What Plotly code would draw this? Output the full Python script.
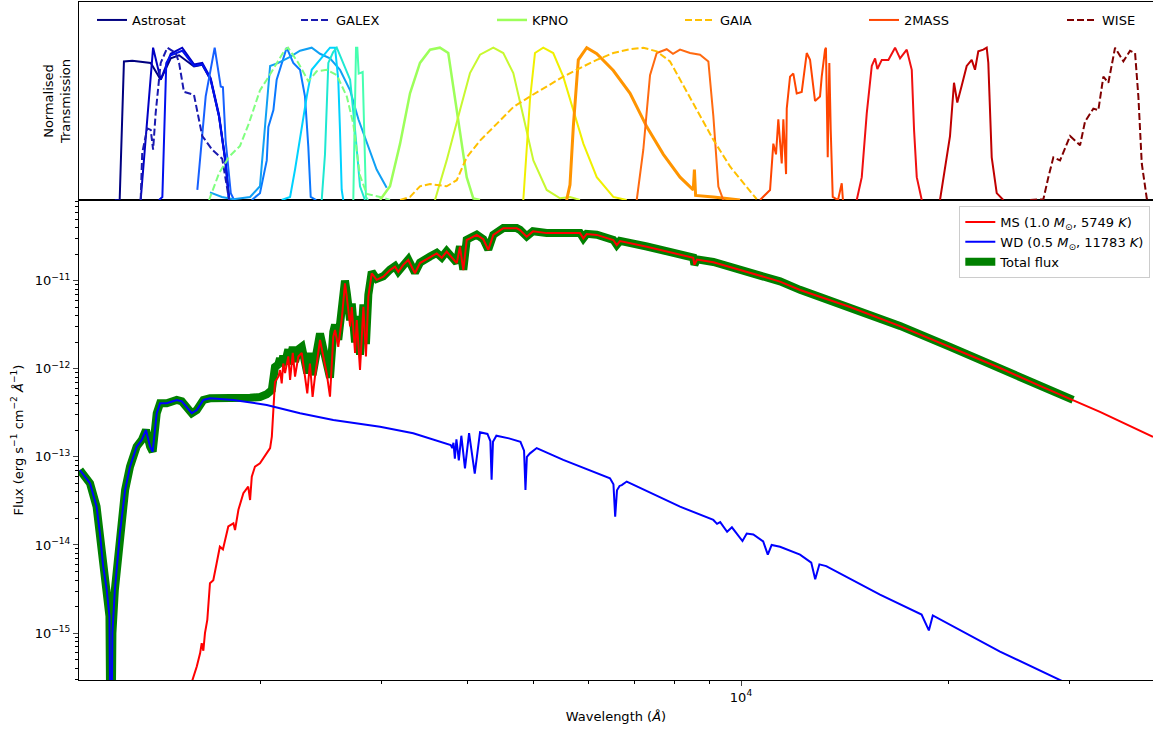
import plotly.graph_objects as go

# ---------------- top panel: filter transmission curves ----------------
f148w_wave = [1230, 1250, 1268, 1304, 1387, 1434, 1483, 1525, 1603, 1648, 1695, 1743, 1782, 1803]
f148w_trans = [0, 0.0, 0.91, 0.915, 0.90, 0.79, 0.93, 0.95, 0.877, 0.888, 0.79, 0.548, 0.243, 0.0]
f154w_wave = [1341, 1398, 1434, 1483, 1541, 1603, 1648, 1695, 1743, 1782, 1803]
f154w_trans = [0, 1.0, 0.79, 0.96, 1.0, 0.89, 0.90, 0.80, 0.56, 0.25, 0.0]
f169m_wave = [1426, 1442, 1461, 1483, 1541, 1603, 1648, 1695, 1743, 1782, 1803]
f169m_trans = [0, 0.02, 0.90, 0.95, 0.98, 0.88, 0.89, 0.79, 0.55, 0.24, 0.0]
f172m_wave = [1621, 1667, 1718, 1753, 1766, 1782, 1813, 1833]
f172m_trans = [0.066, 0.68, 1.0, 0.745, 0.74, 0.39, 0.045, 0.0]
n219m_wave = [1945, 1999, 2045, 2056, 2091, 2114, 2186, 2235, 2286, 2324, 2350, 2369, 2413]
n219m_trans = [0, 0.045, 0.26, 0.48, 0.59, 0.79, 1.0, 0.90, 0.855, 0.68, 0.35, 0.02, 0]
n242w_wave = [1691, 1760, 1829, 1934, 1999, 2033, 2068, 2126, 2211, 2286, 2377, 2444, 2527,
              2613, 2703, 2779, 2858, 2954, 3055]
n242w_trans = [0.05, 0.02, 0.005, 0.02, 0.09, 0.46, 0.88, 0.90, 0.94, 0.98, 1.0, 0.96, 0.93,
               0.855, 0.72, 0.53, 0.375, 0.20, 0.08]
n245m_wave = [2150, 2211, 2248, 2299, 2338, 2377, 2430, 2485, 2527, 2570, 2598, 2613, 2628, 2642]
n245m_trans = [0, 0.02, 0.20, 0.48, 0.68, 0.855, 0.91, 0.965, 1.0, 1.0, 0.79, 0.46, 0.066, 0]
n263m_wave = [2458, 2485, 2513, 2553, 2585, 2639, 2703, 2748, 2794, 2841]
n263m_trans = [0, 0.30, 0.90, 0.97, 1.0, 0.90, 0.79, 0.46, 0.09, 0]
n279n_wave = [2732, 2757, 2769, 2782, 2819, 2831, 2850, 2870]
n279n_trans = [0, 1.0, 1.0, 0.83, 0.84, 0.46, 0.02, 0]

galex_fuv_wave = [1341, 1348, 1371, 1387, 1398, 1410, 1434, 1466, 1508, 1525, 1550, 1603, 1648,
                  1704, 1762, 1792, 1803]
galex_fuv_trans = [0, 0.31, 0.47, 0.46, 0.33, 0.57, 0.90, 1.0, 0.965, 0.90, 0.71, 0.69, 0.42,
                   0.33, 0.27, 0.09, 0.0]
galex_nuv_wave = [1686, 1743, 1803, 1870, 1927, 1999, 2045, 2114, 2174, 2196, 2273, 2350, 2417,
                  2499, 2585, 2673, 2732, 2794, 2858, 2988, 3089]
galex_nuv_trans = [0, 0.175, 0.285, 0.355, 0.505, 0.72, 0.79, 0.90, 0.987, 1.0, 0.90, 0.78, 0.845,
                   0.855, 0.82, 0.68, 0.50, 0.16, 0.04, 0.02, 0]

kpno_u_wave = [2988, 3089, 3195, 3303, 3415, 3532, 3651, 3754, 3817, 3904, 3993, 4082, 4175]
kpno_u_trans = [0, 0.09, 0.37, 0.70, 0.90, 0.987, 1.0, 0.965, 0.745, 0.44, 0.15, 0.01, 0]
kpno_b_wave = [3591, 3734, 3904, 4037, 4175, 4365, 4513, 4667, 4826, 4991, 5219, 5457, 5642, 5834]
kpno_b_trans = [0, 0.26, 0.59, 0.833, 0.954, 1.0, 0.965, 0.833, 0.55, 0.26, 0.066, 0.011, 0.02, 0]
kpno_v_wave = [4826, 4881, 4935, 5018, 5159, 5334, 5516, 5705, 5900, 6171, 6522, 6822]
kpno_v_trans = [0, 0.33, 0.66, 0.965, 1.0, 0.965, 0.81, 0.59, 0.37, 0.15, 0.02, 0]
kpno_r_wave = [5579, 5642, 5705, 5801, 5967, 6171, 6522, 6898, 7296, 7711, 8154, 8450, 8523,
               8556, 8590, 9116, 9967]
kpno_r_trans = [0, 0.10, 0.48, 0.92, 1.0, 0.96, 0.85, 0.70, 0.48, 0.30, 0.15, 0.08, 0.066,
                0.20, 0.03, 0.02, 0]
kpno_i_wave = [7054, 7211, 7375, 7542, 7798, 7964, 8154, 8432, 8718, 8965, 9116, 9270, 9425]
kpno_i_trans = [0, 0.33, 0.82, 0.965, 0.99, 0.96, 0.987, 0.965, 0.954, 0.91, 0.55, 0.088, 0]

gaia_g_wave = [3195, 3303, 3415, 3532, 3734, 3862, 3993, 4175, 4415, 4667, 4935, 5219, 5516,
               5834, 6171, 6522, 6898, 7211, 7542, 7885, 8154, 8621, 9116, 9639, 10193, 10540]
gaia_g_trans = [0, 0.02, 0.09, 0.105, 0.09, 0.13, 0.28, 0.39, 0.50, 0.61, 0.68, 0.745, 0.81,
                0.866, 0.92, 0.965, 0.99, 1.0, 0.976, 0.91, 0.79, 0.59, 0.395, 0.22, 0.09, 0.005]

tmass_j_wave = [10657, 11020, 11142, 11243, 11330, 11460, 11522, 11627, 11654, 11783, 11914,
                12050, 12253, 12460, 12599, 12811, 13027, 13101, 13247, 13287, 13367, 13439,
                13502, 13593, 13836, 14009, 14065]
tmass_j_trans = [0, 0.066, 0.37, 0.30, 0.53, 0.24, 0.53, 0.17, 0.60, 0.81, 0.83, 0.70, 0.71,
                 0.965, 0.92, 0.65, 0.68, 0.81, 0.987, 1.0, 0.28, 0.90, 0.46, 0.02, 0, 0.11, 0]
tmass_h_wave = [14730, 14980, 15233, 15490, 15662, 15783, 16017, 16375, 16746, 17028, 17414,
                17708, 17845, 18006, 18310]
tmass_h_trans = [0, 0.15, 0.57, 0.88, 0.93, 0.86, 0.92, 0.92, 1.0, 0.93, 0.987, 0.855, 0.46, 0.15, 0]
tmass_k_wave = [19463, 19792, 20126, 20397, 20623, 20929, 21283, 21642, 21882, 22125, 22499,
                22756, 22879, 23141, 23532, 24057]
tmass_k_trans = [0, 0.20, 0.42, 0.77, 0.64, 0.75, 0.88, 0.92, 0.855, 0.976, 0.987, 1.0, 0.90,
                 0.28, 0.045, 0]

wise_w1_wave = [26310, 27508, 27972, 28444, 29089, 30080, 31103, 31624, 32516, 33065, 33624,
                34192, 34967, 35952, 36768, 37389, 37804, 38237, 38883, 39314]
wise_w1_trans = [0, 0.005, 0.15, 0.28, 0.26, 0.42, 0.36, 0.515, 0.60, 0.59, 0.81, 0.77, 1.0,
                 0.91, 0.98, 0.965, 0.68, 0.24, 0.01, 0]

# (survey, wave, trans, colour, dash, width)
filters = [
    ("Astrosat", f148w_wave, f148w_trans, "#000080", "solid", 2),
    ("Astrosat", f154w_wave, f154w_trans, "#0000c4", "solid", 2),
    ("Astrosat", f169m_wave, f169m_trans, "#0010ee", "solid", 2),
    ("Astrosat", f172m_wave, f172m_trans, "#1660ff", "solid", 2),
    ("Astrosat", n219m_wave, n219m_trans, "#0a78ff", "solid", 2),
    ("Astrosat", n242w_wave, n242w_trans, "#10a0f4", "solid", 2),
    ("Astrosat", n245m_wave, n245m_trans, "#00d2ff", "solid", 2),
    ("Astrosat", n263m_wave, n263m_trans, "#1ee8d2", "solid", 2),
    ("Astrosat", n279n_wave, n279n_trans, "#46ffb0", "solid", 2),
    ("GALEX", galex_fuv_wave, galex_fuv_trans, "#1a1ab0", "dash", 2),
    ("GALEX", galex_nuv_wave, galex_nuv_trans, "#80ff80", "dash", 2),
    ("KPNO", kpno_u_wave, kpno_u_trans, "#9cff5a", "solid", 2.5),
    ("KPNO", kpno_b_wave, kpno_b_trans, "#c8f830", "solid", 2),
    ("KPNO", kpno_v_wave, kpno_v_trans, "#f0f000", "solid", 2),
    ("KPNO", kpno_r_wave, kpno_r_trans, "#ff9400", "solid", 3),
    ("KPNO", kpno_i_wave, kpno_i_trans, "#ff6a10", "solid", 2),
    ("GAIA", gaia_g_wave, gaia_g_trans, "#ffc000", "dash", 2),
    ("2MASS", tmass_j_wave, tmass_j_trans, "#ff4500", "solid", 2),
    ("2MASS", tmass_h_wave, tmass_h_trans, "#f01010", "solid", 2),
    ("2MASS", tmass_k_wave, tmass_k_trans, "#c00000", "solid", 2),
    ("WISE", wise_w1_wave, wise_w1_trans, "#800000", "dash", 2),
]
surveys = ["Astrosat", "GALEX", "KPNO", "GAIA", "2MASS", "WISE"]

# ---------------- bottom panel: spectra ----------------
wd_wave = [1094, 1132, 1157, 1170, 1183, 1197, 1208, 1214, 1220, 1230, 1251, 1273, 1294, 1323,
           1346, 1365, 1384, 1396, 1415, 1431, 1463, 1513, 1539, 1591, 1618, 1654, 1691, 1829,
           2045, 2286, 2555, 2988, 3339, 3734, 3785, 3805, 3820, 3838, 3858, 3889, 3922, 3970,
           4025, 4102, 4175, 4280, 4322, 4340, 4360, 4410, 4600, 4780, 4838, 4861, 4884, 4935,
           5047, 5516, 6171, 6450, 6525, 6563, 6603, 6660, 6709, 6822, 8154, 8965, 9116, 9229,
           9327, 9546, 9700, 10049, 10193, 10420, 10770, 10938, 11080, 11395, 12184, 12650,
           12818, 13000, 13300, 15922, 18300, 18751, 19000, 23793, 29385, 33245, 40000]
wd_logflux = [-13.149, -13.30, -13.565, -13.867, -14.246, -14.51, -14.81, -17.0, -15.0, -14.51,
              -13.867, -13.376, -13.111, -12.884, -12.808, -12.695, -12.884, -12.941, -12.505,
              -12.392, -12.392, -12.354, -12.37, -12.505, -12.468, -12.354, -12.335, -12.354,
              -12.411, -12.505, -12.581, -12.657, -12.732, -12.846, -12.865, -12.90, -12.84,
              -13.02, -12.80, -13.04, -12.76, -13.13, -12.73, -13.19, -12.72, -12.74, -12.82,
              -13.26, -12.83, -12.76, -12.79, -12.83, -12.93, -13.376, -13.0, -12.96, -12.90,
              -13.035, -13.186, -13.243, -13.31, -13.68, -13.38, -13.33, -13.32, -13.28, -13.565,
              -13.697, -13.716, -13.76, -13.74, -13.85, -13.80, -13.955, -13.87, -13.88, -13.96,
              -14.11, -14.0, -14.02, -14.11, -14.20, -14.39, -14.22, -14.24, -14.564, -14.79,
              -14.97, -14.80, -15.21, -15.55, -15.80, -16.15]

ms_wave = [1540, 1555, 1618, 1636, 1645, 1654, 1663, 1676, 1691, 1710, 1729, 1748, 1766, 1798,
           1829, 1839, 1860, 1891, 1922, 1934, 1945, 1966, 1999, 2045, 2068, 2080, 2091, 2102,
           2126, 2138, 2150, 2161, 2174, 2198, 2211, 2231, 2248, 2273, 2299, 2324, 2342, 2363,
           2384, 2403, 2430, 2444, 2471, 2499, 2527, 2555, 2570, 2598, 2628, 2657, 2673, 2703,
           2718, 2748, 2764, 2794, 2826, 2850, 2873, 2906, 2954, 3020, 3089, 3141, 3176, 3229,
           3284, 3358, 3415, 3532, 3612, 3673, 3734, 3862, 3904, 3948, 3993, 4037, 4129, 4221,
           4292, 4365, 4513, 4720, 4773, 4881, 4985, 5219, 5834, 5900, 5967, 6171, 6522, 6597,
           6669, 7296, 8154, 8523, 8556, 8630, 9116, 10193, 11395, 12184, 14401, 17024, 20126,
           23793, 27194, 30383, 33245, 39700]
ms_logflux = [-16.0, -15.8, -15.38, -15.23, -15.116, -15.2, -15.0, -14.85, -14.435, -14.40,
              -14.21, -14.02, -14.05, -13.79, -13.754, -13.83, -13.60, -13.413, -13.338, -13.49,
              -13.225, -13.11, -13.073, -12.96, -12.90, -12.77, -12.505, -12.15, -12.09, -12.014,
              -12.165, -11.94, -12.05, -11.86, -12.127, -11.82, -12.09, -11.86, -11.82, -12.09,
              -12.28, -11.94, -12.32, -12.09, -11.787, -11.673, -11.86, -12.05, -12.317, -11.636,
              -11.56, -11.75, -11.446, -11.03, -11.18, -11.52, -11.30, -11.82, -11.446, -12.014,
              -11.295, -11.86, -11.18, -10.916, -10.99, -10.955, -10.88, -10.84, -10.90, -10.82,
              -10.765, -10.916, -10.80, -10.73, -10.69, -10.74, -10.67, -10.80, -10.614, -10.88,
              -10.538, -10.52, -10.48, -10.53, -10.65, -10.48, -10.405, -10.405, -10.425, -10.50,
              -10.44, -10.46, -10.46, -10.52, -10.47, -10.48, -10.538, -10.595, -10.55, -10.614,
              -10.708, -10.74, -10.82, -10.76, -10.79, -10.90, -11.01, -11.106, -11.299, -11.515,
              -11.753, -11.991, -12.195, -12.354, -12.49, -12.774]

total_wave = [1094, 1132, 1157, 1170, 1183, 1197, 1208, 1214, 1220, 1230, 1251, 1273, 1294, 1323,
              1346, 1365, 1384, 1396, 1415, 1431, 1463, 1513, 1539, 1591, 1618, 1654, 1691, 1829,
              1934, 1999, 2045, 2080, 2091, 2102, 2126, 2138, 2150, 2161, 2174, 2198, 2211, 2231,
              2248, 2273, 2299, 2324, 2342, 2363, 2384, 2403, 2430, 2444, 2471, 2499, 2527, 2555,
              2570, 2598, 2628, 2657, 2673, 2703, 2718, 2748, 2764, 2794, 2826, 2850, 2873, 2906,
              2954, 3020, 3089, 3141, 3176, 3229, 3284, 3358, 3415, 3532, 3612, 3673, 3734, 3862,
              3904, 3948, 3993, 4037, 4129, 4221, 4292, 4365, 4513, 4720, 4773, 4881, 4985, 5219,
              5834, 5900, 5967, 6171, 6522, 6597, 6669, 7296, 8154, 8523, 8556, 8630, 9116, 10193,
              11395, 12184, 14401, 17024, 20126, 23793, 27194, 30383]
total_logflux = [-13.149, -13.30, -13.565, -13.867, -14.246, -14.51, -14.81, -17.0, -15.0,
                 -14.51, -13.867, -13.376, -13.111, -12.884, -12.808, -12.695, -12.884, -12.941,
                 -12.505, -12.392, -12.392, -12.354, -12.37, -12.505, -12.468, -12.354, -12.335,
                 -12.345, -12.33, -12.32, -12.29, -12.24, -12.10, -11.98, -11.95, -11.88, -11.97,
                 -11.85, -11.93, -11.78, -11.95, -11.75, -11.92, -11.78, -11.75, -11.92, -12.05,
                 -11.82, -12.07, -11.92, -11.70, -11.60, -11.77, -11.92, -12.10, -11.58, -11.50,
                 -11.67, -11.40, -11.00, -11.14, -11.45, -11.26, -11.70, -11.40, -11.84, -11.27,
                 -11.72, -11.16, -10.90, -10.98, -10.95, -10.875, -10.835, -10.895, -10.815,
                 -10.76, -10.91, -10.795, -10.725, -10.685, -10.735, -10.665, -10.795, -10.61,
                 -10.875, -10.535, -10.515, -10.478, -10.528, -10.645, -10.478, -10.403, -10.403,
                 -10.423, -10.497, -10.438, -10.458, -10.458, -10.518, -10.468, -10.478, -10.536,
                 -10.593, -10.548, -10.612, -10.706, -10.738, -10.818, -10.758, -10.788, -10.898,
                 -11.008, -11.104, -11.297, -11.513, -11.751, -11.99, -12.194, -12.353]

ms_label = "MS (1.0 <i>M</i><sub>⊙</sub>, 5749 <i>K</i>)"
wd_label = "WD (0.5 <i>M</i><sub>⊙</sub>, 11783 <i>K</i>)"
total_label = "Total flux"

x_major = [1e4]
x_minor = [2000, 3000, 4000, 5000, 6000, 7000, 8000, 9000, 20000, 30000]
y_major = [1e-15, 1e-14, 1e-13, 1e-12, 1e-11]
y_major_text = ["10<sup>−15</sup>", "10<sup>−14</sup>", "10<sup>−13</sup>",
                "10<sup>−12</sup>", "10<sup>−11</sup>"]
y_minor = [m * 10.0 ** e for e in range(-16, -10) for m in range(2, 10)]

# ---------------- build figure ----------------
FONT = "DejaVu Sans"
fig = go.Figure()

# one legend per survey so that the six entries are spread across the top panel
legend_ids = ["legend", "legend3", "legend4", "legend5", "legend6", "legend7"]
survey_legend = dict(zip(surveys, legend_ids))

seen = set()
for survey, wv, tr, col, dash, lw in filters:
    show = survey not in seen
    seen.add(survey)
    fig.add_trace(go.Scatter(
        x=wv, y=tr, mode="lines", name=survey, legendgroup=survey, showlegend=show,
        line=dict(color=col, width=lw, dash="7px,3px" if dash == "dash" else "solid"),
        xaxis="x2", yaxis="y2", legend=survey_legend[survey]))

fig.add_trace(go.Scatter(
    x=total_wave, y=[10 ** v for v in total_logflux], mode="lines", name=total_label,
    line=dict(color="green", width=8), legend="legend2", legendrank=3))
fig.add_trace(go.Scatter(
    x=ms_wave, y=[10 ** v for v in ms_logflux], mode="lines", name=ms_label,
    line=dict(color="red", width=2), legend="legend2", legendrank=1))
fig.add_trace(go.Scatter(
    x=wd_wave, y=[10 ** v for v in wd_logflux], mode="lines", name=wd_label,
    line=dict(color="blue", width=2), legend="legend2", legendrank=2))

H_PLOT = 678.0
W_PLOT = 1074.0
split = 480.0 / H_PLOT

axis_common = dict(showline=True, linecolor="black", linewidth=1, zeroline=False,
                   showgrid=False, tickfont=dict(family=FONT, size=13, color="black"))

top_legend_start = [98, 302, 498, 686, 870, 1068]   # pixel x of each legend sample line
top_legends = {}
for lid, px in zip(legend_ids, top_legend_start):
    top_legends[lid] = dict(orientation="h", x=(px - 85) / W_PLOT, xanchor="left",
                            y=1 - 3 / H_PLOT, yanchor="top", bgcolor="rgba(0,0,0,0)",
                            font=dict(family=FONT, size=13), tracegroupgap=0)

fig.update_layout(
    width=1153, height=729,
    margin=dict(l=79, r=0, t=2, b=49),
    plot_bgcolor="white", paper_bgcolor="white",
    font=dict(family=FONT, size=13, color="black"),
    xaxis=dict(**axis_common, domain=[0, 1], anchor="y", type="log",
               range=[3.0378, 4.5988], mirror=True, ticks="outside", ticklen=5,
               tickvals=x_major, ticktext=["10<sup>4</sup>"],
               minor=dict(tickvals=x_minor, ticks="outside", ticklen=3, tickcolor="black"),
               title=dict(text="Wavelength (<i>Å</i>)", standoff=8,
                          font=dict(family=FONT, size=13))),
    yaxis=dict(**axis_common, domain=[0, split], anchor="x", type="log",
               range=[-15.533, -10.084], ticks="outside", ticklen=5,
               tickvals=y_major, ticktext=y_major_text,
               minor=dict(tickvals=y_minor, ticks="outside", ticklen=3, tickcolor="black"),
               title=dict(text="Flux (erg s<sup>−1</sup> cm<sup>−2</sup> <i>Å</i><sup>−1</sup>)",
                          standoff=8, font=dict(family=FONT, size=13))),
    xaxis2=dict(**axis_common, domain=[0, 1], anchor="y2", type="log", matches="x",
                range=[3.0378, 4.5988], mirror=True, ticks="", showticklabels=False),
    yaxis2=dict(**axis_common, domain=[split, 1], anchor="x2", range=[0, 1.30],
                ticks="", showticklabels=False,
                title=dict(text="Normalised<br>Transmission", standoff=4,
                           font=dict(family=FONT, size=13))),
    legend2=dict(x=0.9975, xanchor="right", y=split - 6 / H_PLOT, yanchor="top",
                 bgcolor="rgba(255,255,255,0.85)", bordercolor="#cccccc", borderwidth=1,
                 font=dict(family=FONT, size=13), tracegroupgap=0),
    showlegend=True,
    **top_legends,
)

fig.write_html("out.html")
